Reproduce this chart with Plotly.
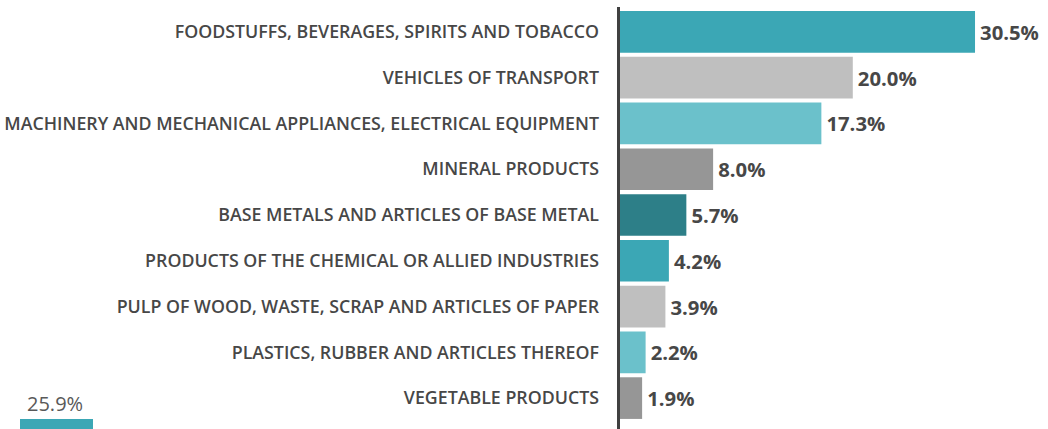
import plotly.graph_objects as go

categories = [
    "FOODSTUFFS, BEVERAGES, SPIRITS AND TOBACCO",
    "VEHICLES OF TRANSPORT",
    "MACHINERY AND MECHANICAL APPLIANCES, ELECTRICAL EQUIPMENT",
    "MINERAL PRODUCTS",
    "BASE METALS AND ARTICLES OF BASE METAL",
    "PRODUCTS OF THE CHEMICAL OR ALLIED INDUSTRIES",
    "PULP OF WOOD, WASTE, SCRAP AND ARTICLES OF PAPER",
    "PLASTICS, RUBBER AND ARTICLES THEREOF",
    "VEGETABLE PRODUCTS",
]
values = [30.5, 20.0, 17.3, 8.0, 5.7, 4.2, 3.9, 2.2, 1.9]
colors = ["#3ba7b5", "#bfbfbf", "#6bc1cb", "#969696", "#2d7f88",
          "#3ba7b5", "#bfbfbf", "#6bc1cb", "#969696"]
legend_value = "25.9%"
legend_color = "#3ba7b5"

W, H = 1048, 429
L, T = 620, 7
plot_w = W - L
plot_h = H - T

idx = list(range(len(categories)))

fig = go.Figure()
fig.add_trace(go.Bar(
    x=values, y=idx, orientation="h",
    marker=dict(color=colors, line=dict(width=0)),
    text=[f"\u200a{v:.1f}%" for v in values],
    textposition="outside",
    textfont=dict(family="Open Sans", size=20.3, color="#474747", weight=700),
    cliponaxis=False,
    hoverinfo="skip",
))

def px_x(p):
    return (p - L) / plot_w

def px_y(p):
    return (H - p) / plot_h

fig.update_layout(
    width=W, height=H,
    margin=dict(l=L, r=0, t=T, b=0),
    paper_bgcolor="white", plot_bgcolor="white",
    showlegend=False,
    bargap=0.09,
    xaxis=dict(range=[0, 36.77], visible=False, fixedrange=True),
    yaxis=dict(
        range=[8.675, -0.544],
        tickvals=idx, ticktext=categories,
        showgrid=False, zeroline=False, showline=False,
        ticks="", ticklabelstandoff=20,
        tickfont=dict(family="Open Sans", size=17.8, color="#474747", weight=600),
        fixedrange=True,
    ),
    shapes=[
        dict(type="line", xref="paper", yref="paper",
             x0=px_x(618.5), x1=px_x(618.5), y0=0, y1=1,
             line=dict(color="#404040", width=3)),
        dict(type="rect", xref="paper", yref="paper",
             x0=px_x(20), x1=px_x(93), y0=px_y(429), y1=px_y(419),
             fillcolor=legend_color, line=dict(width=0)),
    ],
    annotations=[
        dict(text=legend_value, xref="paper", yref="paper",
             x=px_x(55), y=px_y(403), xanchor="center", yanchor="middle",
             showarrow=False,
             font=dict(family="Open Sans", size=20, color="#595959")),
    ],
)

fig.write_html(
    "out.html",
    config={"displayModeBar": False, "staticPlot": True},
    post_script="document.body.style.margin='0px';document.body.style.overflow='hidden';",
)
